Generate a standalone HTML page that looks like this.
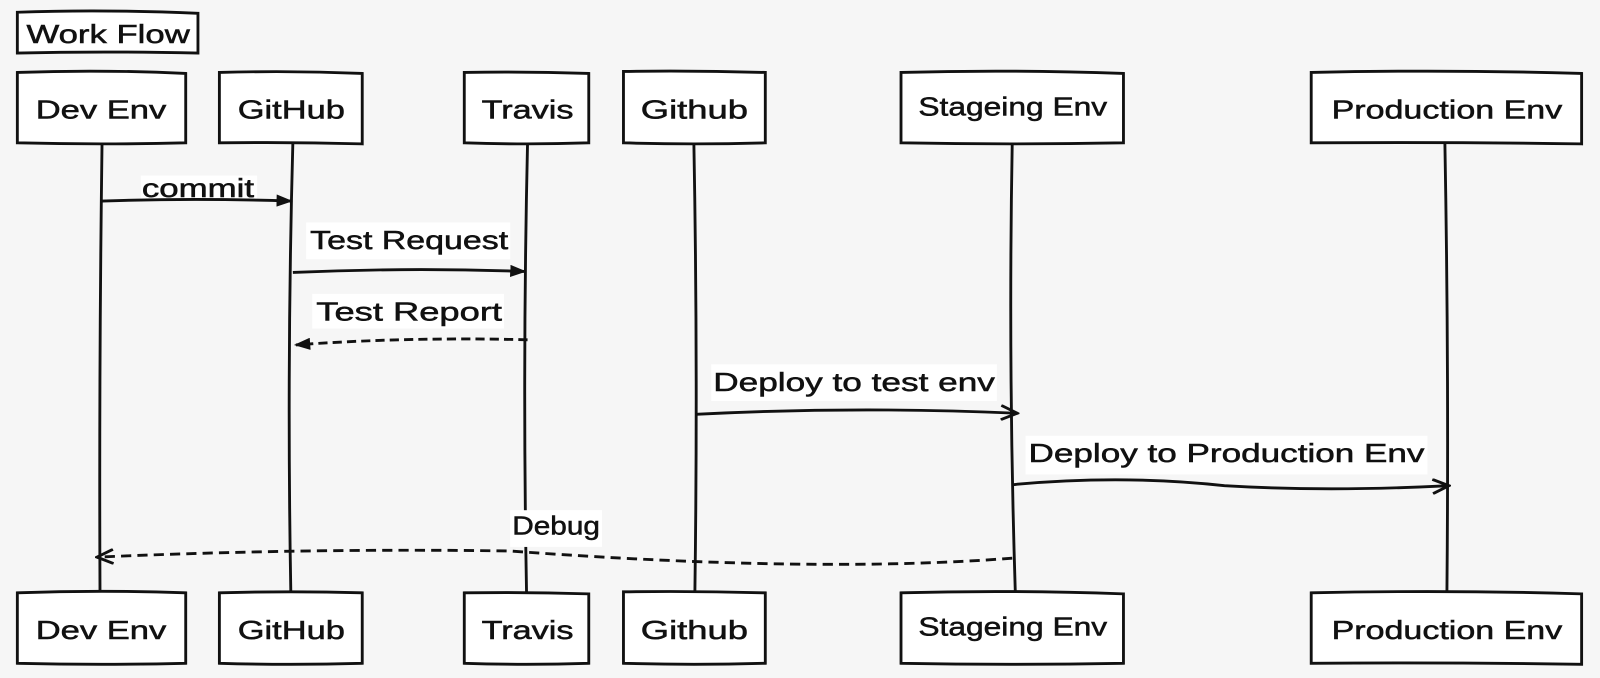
<!DOCTYPE html>
<html><head><meta charset="utf-8"><style>
html,body{margin:0;padding:0;background:#f6f6f6;}
svg{display:block;}
text{font-family:"Liberation Sans",sans-serif;font-size:25px;fill:#111;stroke:#111;stroke-width:0.5px;}
</style></head><body>
<svg width="1600" height="678" viewBox="0 0 1600 678" xmlns="http://www.w3.org/2000/svg">
<rect width="1600" height="678" fill="#f6f6f6"/>
<defs>
<marker id="fa" markerWidth="16" markerHeight="12" refX="14" refY="6" orient="auto" markerUnits="userSpaceOnUse"><path d="M0,0 L16,6 L0,12 Z" fill="#111"/></marker>
<marker id="oa" markerWidth="20" markerHeight="16" refX="18" refY="8" orient="auto" markerUnits="userSpaceOnUse"><path d="M2,1 L18,8 L2,15" fill="none" stroke="#111" stroke-width="2.8"/></marker>
</defs>
<g transform="scale(1.0204)">
<g stroke="#111" stroke-width="2.8" fill="none">
<path d="M100,140 Q97,360 98,580"/>
<path d="M287,140 Q281,360 285,580"/>
<path d="M517,140 Q512,360 516,580"/>
<path d="M680,140 Q684,360 681,580"/>
<path d="M992,140 Q988,360 995,580"/>
<path d="M1416,140 Q1420,360 1418,580"/>
</g>
<path d="M17,12 Q100,9 194,13 L194,52 Q100,50 17,52 Z" fill="#fff" stroke="#111" stroke-width="2.8"/>
<text x="26" y="42" textLength="160" lengthAdjust="spacingAndGlyphs">Work Flow</text>
<g fill="#fff" stroke="#111" stroke-width="2.8">
<path d="M17,71 Q100,68 182,72 L182,140 Q100,142 17,140 Z"/>
<path d="M215,71 Q285,69 355,72 L355,141 Q285,139 215,140 Z"/>
<path d="M455,71 Q516,70 577,72 L577,140 Q516,142 455,140 Z"/>
<path d="M611,70 Q680,69 750,71 L750,140 Q680,142 611,140 Z"/>
<path d="M883,71 Q990,68 1101,72 L1101,140 Q990,142 883,140 Z"/>
<path d="M1285,71 Q1418,68 1550,72 L1550,141 Q1418,139 1285,140 Z"/>
<path d="M17,581 Q100,578 182,581 L182,650 Q100,652 17,650 Z"/>
<path d="M215,581 Q285,579 355,581 L355,650 Q285,652 215,650 Z"/>
<path d="M455,581 Q516,580 577,582 L577,650 Q516,652 455,650 Z"/>
<path d="M611,580 Q680,579 750,581 L750,650 Q680,652 611,650 Z"/>
<path d="M883,581 Q990,578 1101,582 L1101,650 Q990,652 883,650 Z"/>
<path d="M1285,581 Q1418,578 1550,582 L1550,651 Q1418,649 1285,650 Z"/>
</g>
<g>
<text x="35" y="116" textLength="128" lengthAdjust="spacingAndGlyphs">Dev Env</text>
<text x="233" y="116" textLength="105" lengthAdjust="spacingAndGlyphs">GitHub</text>
<text x="472" y="116" textLength="90" lengthAdjust="spacingAndGlyphs">Travis</text>
<text x="628" y="116" textLength="105" lengthAdjust="spacingAndGlyphs">Github</text>
<text x="900" y="113" textLength="185" lengthAdjust="spacingAndGlyphs">Stageing Env</text>
<text x="1305" y="116" textLength="226" lengthAdjust="spacingAndGlyphs">Production Env</text>
<text x="35" y="626" textLength="128" lengthAdjust="spacingAndGlyphs">Dev Env</text>
<text x="233" y="626" textLength="105" lengthAdjust="spacingAndGlyphs">GitHub</text>
<text x="472" y="626" textLength="90" lengthAdjust="spacingAndGlyphs">Travis</text>
<text x="628" y="626" textLength="105" lengthAdjust="spacingAndGlyphs">Github</text>
<text x="900" y="623" textLength="185" lengthAdjust="spacingAndGlyphs">Stageing Env</text>
<text x="1305" y="626" textLength="226" lengthAdjust="spacingAndGlyphs">Production Env</text>
</g>
<g fill="#fff">
<rect x="138" y="172" width="114" height="24"/>
<rect x="300" y="218" width="200" height="36"/>
<rect x="306" y="288" width="188" height="34"/>
<rect x="697" y="357" width="280" height="36"/>
<rect x="1005" y="427" width="394" height="38"/>
<rect x="500" y="500" width="90" height="36"/>
</g>
<g stroke="#111" stroke-width="2.8" fill="none">
<path d="M100,197 Q190,194 285,197" marker-end="url(#fa)"/>
<path d="M287,267 Q400,262 514,266" marker-end="url(#fa)"/>
<path d="M517,333 Q400,330 290,338" stroke-dasharray="9,5" marker-end="url(#fa)"/>
<path d="M682,406 Q840,398 997,405" marker-end="url(#oa)"/>
<path d="M992,475 Q1100,465 1200,476 Q1300,482 1420,476" marker-end="url(#oa)"/>
<path d="M992,547 Q800,562 500,540 Q300,537 95,546" stroke-dasharray="10,6" marker-end="url(#oa)"/>
</g>
<g>
<text x="139" y="193" textLength="110" lengthAdjust="spacingAndGlyphs">commit</text>
<text x="304" y="244" textLength="194" lengthAdjust="spacingAndGlyphs">Test Request</text>
<text x="310" y="314" textLength="182" lengthAdjust="spacingAndGlyphs">Test Report</text>
<text x="699" y="383" textLength="276" lengthAdjust="spacingAndGlyphs">Deploy to test env</text>
<text x="1008" y="453" textLength="388" lengthAdjust="spacingAndGlyphs">Deploy to Production Env</text>
<text x="502" y="524" textLength="86" lengthAdjust="spacingAndGlyphs">Debug</text>
</g>
</g>
</svg>
</body></html>
